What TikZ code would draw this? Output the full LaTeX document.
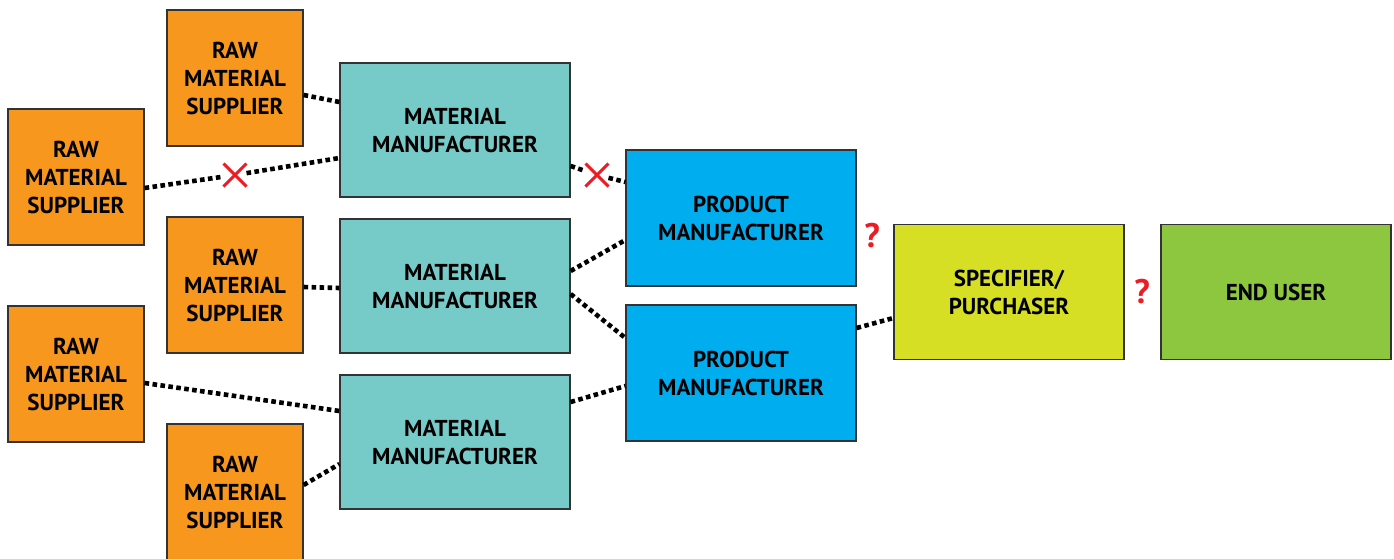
\documentclass[tikz,border=0pt]{standalone}
\usepackage{fontspec}
\setsansfont{PT Sans}
\usepackage{tikz}
\usetikzlibrary{shapes.misc}
\definecolor{rawcol}{HTML}{F7971E}
\definecolor{matcol}{HTML}{76CBC9}
\definecolor{prodcol}{HTML}{00ADEE}
\definecolor{speccol}{HTML}{D6DF23}
\definecolor{usercol}{HTML}{8DC63F}
\definecolor{xred}{HTML}{ED1C24}
\tikzstyle{box}=[draw=black!80,line width=.6pt,align=center,font=\sffamily\bfseries\fontsize{11.5}{14}\selectfont,text=black]
\tikzstyle{rawbox}=[box,fill=rawcol,minimum width=68pt,minimum height=68pt]
\tikzstyle{matbox}=[box,fill=matcol,minimum width=115pt,minimum height=67pt]
\tikzstyle{prodbox}=[box,fill=prodcol,minimum width=115pt,minimum height=68pt]
\tikzstyle{link}=[line width=2.3pt,dash pattern=on 2.3pt off 1.7pt]
\tikzstyle{nolink}=[cross out,draw=xred,line width=1.5pt,minimum size=10pt,inner sep=0pt]
\tikzstyle{unsure}=[text=xred,font=\sffamily\bfseries\fontsize{17}{17}\selectfont]
\begin{document}
\begin{tikzpicture}[x=0.5pt,y=-0.5pt]
	\useasboundingbox (0,0) rectangle (1394,558);
	% suppliers
	\node[rawbox] (rsA) at (235,78)  {RAW\\MATERIAL\\SUPPLIER};
	\node[rawbox] (rsB) at (76,177)  {RAW\\MATERIAL\\SUPPLIER};
	\node[rawbox] (rsC) at (235,285) {RAW\\MATERIAL\\SUPPLIER};
	\node[rawbox] (rsD) at (76,374)  {RAW\\MATERIAL\\SUPPLIER};
	\node[rawbox] (rsE) at (235,492) {RAW\\MATERIAL\\SUPPLIER};
	% manufacturers
	\node[matbox] (mmA) at (455,130) {MATERIAL\\MANUFACTURER};
	\node[matbox] (mmB) at (455,286) {MATERIAL\\MANUFACTURER};
	\node[matbox] (mmC) at (455,442) {MATERIAL\\MANUFACTURER};
	\node[prodbox] (pmA) at (741,218) {PRODUCT\\MANUFACTURER};
	\node[prodbox] (pmB) at (741,373) {PRODUCT\\MANUFACTURER};
	\node[box,fill=speccol,minimum width=115pt,minimum height=67.5pt] (spec) at (1009,292) {SPECIFIER/\\PURCHASER};
	\node[box,fill=usercol,minimum width=115pt,minimum height=67.5pt] (user) at (1276,292) {END USER};
	% broken and unknown links
	\node[nolink] (xA) at (235,175) {};
	\node[nolink] (xB) at (597,175) {};
	\node[unsure] (qA) at (872,236) {?};
	\node[unsure] (qB) at (1142,292) {?};
	% links
	\draw[link] ([yshift=-8.5pt]rsA.east) -- ([yshift=14pt]mmA.west);
	\draw[link] ([yshift=-5.5pt]rsB.east) -- (xA) -- ([yshift=-14pt]mmA.west);
	\draw[link] ([yshift=-1pt]rsC.east) -- ([yshift=-1pt]mmB.west);
	\draw[link] ([yshift=-4.5pt]rsD.east) -- ([yshift=15.5pt]mmC.west);
	\draw[link] ([yshift=3.5pt]rsE.east) -- ([yshift=-11pt]mmC.west);
	\draw[link] ([yshift=-18pt]mmA.east) -- (xB) -- ([yshift=18pt]pmA.west);
	\draw[link] ([yshift=7.5pt]mmB.east) -- ([yshift=-11pt]pmA.west);
	\draw[link] ([yshift=-4pt]mmB.east) -- ([yshift=17.5pt]pmB.west);
	\draw[link] ([yshift=20pt]mmC.east) -- ([yshift=-6.5pt]pmB.west);
	\draw[link] ([yshift=22.5pt]pmB.east) -- ([yshift=-13pt]spec.west);
\end{tikzpicture}
\end{document}
